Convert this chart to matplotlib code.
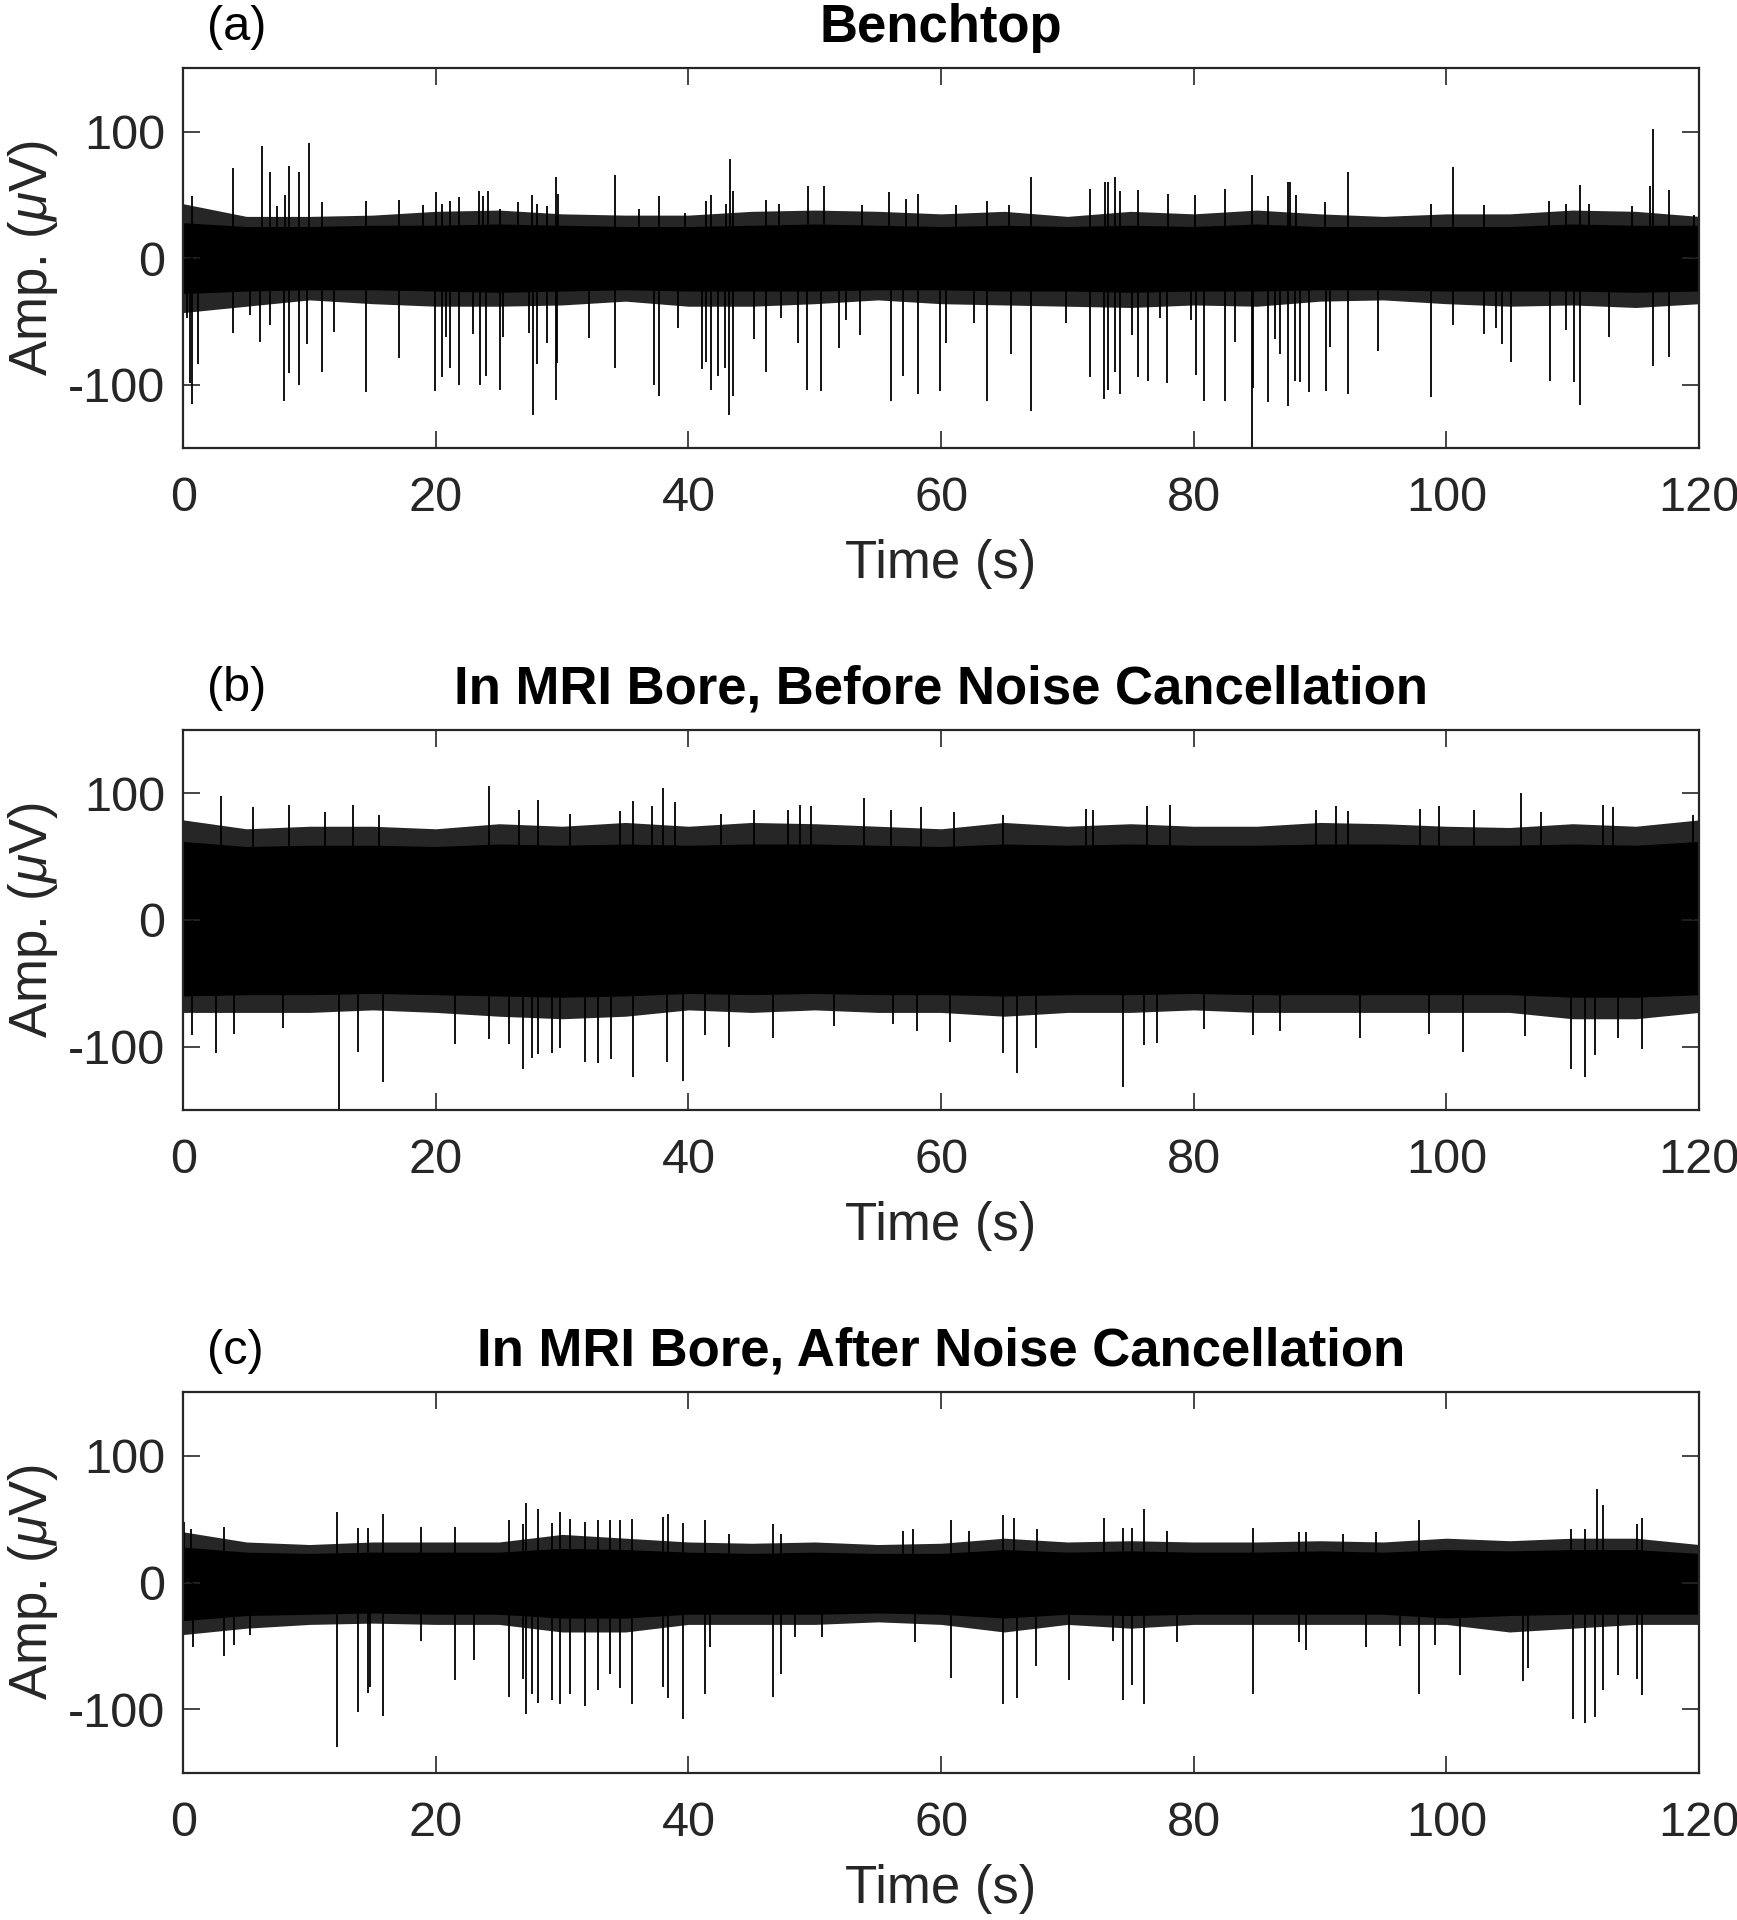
import matplotlib.pyplot as plt

plt.rcParams['font.family'] = ['Liberation Sans', 'DejaVu Sans']
plt.rcParams['mathtext.fontset'] = 'custom'
plt.rcParams['mathtext.it'] = 'Liberation Sans:italic'
plt.rcParams['mathtext.rm'] = 'Liberation Sans'
plt.rcParams['axes.unicode_minus'] = False

# envelope sample times (s)
env_t = list(range(0, 121, 5))

# (a) Benchtop
a_hair_hi = [43, 33, 33, 34, 37, 38, 35, 34, 34, 37, 38, 37, 35, 37, 33, 37, 35, 38, 35, 33, 35, 35, 38, 37, 33]
a_hair_lo = [-43, -38, -33, -36, -38, -38, -37, -34, -38, -38, -36, -33, -36, -37, -38, -39, -37,
             -38, -34, -33, -36, -38, -37, -39, -36]
a_core_hi = [28, 25, 25, 26, 26, 27, 26, 25, 25, 26, 27, 26, 25, 26, 25, 26, 25, 27, 25, 25, 25, 25, 27, 26, 26]
a_core_lo = [-28, -26, -25, -25, -26, -27, -26, -25, -26, -26, -26, -25, -25, -26, -26, -27, -26,
             -26, -25, -25, -26, -26, -26, -27, -26]
a_up_t = [0.66, 3.96, 6.2, 6.9, 7.4, 8.05, 8.4, 9.2, 9.97, 11.0, 14.5, 17.1, 19.0, 20.0, 20.5, 21.1,
          21.8, 23.4, 23.7, 24.1, 25.1, 26.5, 27.6, 28.0, 28.8, 29.5, 29.7, 34.2, 36.1, 37.65, 39.7,
          41.4, 41.8, 43.0, 43.3, 43.5, 46.1, 47.2, 49.5, 50.7, 53.7, 55.9, 57.2, 58.2, 61.2, 63.6,
          65.4, 67.1, 71.8, 73.0, 73.2, 73.8, 74.2, 75.6, 78.0, 80.1,
          82.5, 84.6, 85.9, 87.5, 87.6, 88.1, 90.4, 92.2, 98.8, 100.5, 103.0, 108.1, 109.5, 110.6,
          111.3, 114.7, 116.1, 116.4, 117.6, 119.6]
a_up_v = [49, 71, 89, 68, 41, 50, 73, 68, 91, 44, 45, 46, 42, 52, 43, 45, 48, 53, 49, 53, 39, 44, 50,
          43, 41, 64, 51, 66, 39, 49, 36,
          45, 50, 43, 78, 53, 46, 43, 57, 57, 42, 52, 47, 51, 42, 45, 42, 64, 55, 60, 60, 64, 53, 54,
          51, 50,
          55, 66, 49, 60, 60, 50, 44, 68, 43, 72, 42, 45, 43, 58, 43, 41, 57, 102, 54, 34]
a_dn_t = [0.26, 0.5, 0.7, 1.2, 3.96, 5.3, 6.1, 6.9, 8.0, 8.4, 9.2, 9.8, 11.0, 11.9, 14.5, 17.1, 19.9,
          20.5, 20.8, 21.1, 21.8, 22.9, 23.5, 24.0, 25.1, 25.3, 27.4, 27.7, 28.0, 28.8, 29.5, 29.6,
          32.1, 34.2, 37.3, 37.65, 39.2,
          41.1, 41.4, 41.8, 42.3, 42.9, 43.2, 43.5, 45.2, 46.1, 47.3, 48.7, 49.4, 50.5, 51.9, 52.5,
          53.6, 56.0, 57.0, 58.2, 59.9, 60.4, 62.6, 63.6, 65.5, 67.1, 69.9, 71.8, 72.9, 73.2, 73.8,
          74.2, 75.1, 75.6, 76.4, 77.3, 77.9, 79.8,
          80.2, 80.8, 82.5, 83.3, 84.6, 84.7, 85.9, 86.4, 86.8, 87.5, 88.0, 88.4, 89.1, 90.5, 90.8,
          92.2, 94.6, 98.8, 100.5, 103.0, 103.9, 104.4, 105.1, 108.2, 109.5, 110.1, 110.6, 112.9,
          116.4, 117.6]
a_dn_v = [-47, -99, -115, -84, -59, -45, -66, -53, -113, -91, -100, -68, -90, -58, -106, -79, -105,
          -94, -62, -87, -100, -60, -100, -93, -104, -62, -59, -124, -84, -67, -112, -83, -63, -87,
          -100, -109, -55,
          -88, -82, -104, -93, -87, -124, -109, -64, -90, -47, -67, -104, -105, -71, -49, -61, -113,
          -93, -107, -105, -67, -51, -113, -76, -121, -51, -94, -111, -104, -90, -107, -61, -94,
          -97, -47, -99, -49,
          -92, -113, -113, -66, -150, -103, -114, -64, -76, -117, -97, -98, -106, -105, -70, -107,
          -73, -110, -53, -60, -55, -68, -82, -97, -57, -98, -116, -62, -85, -78]

# (b) In MRI bore, before noise cancellation
b_hair_hi = [79, 72, 74, 74, 72, 76, 74, 77, 74, 77, 76, 74, 72, 77, 74, 76, 74, 74, 77, 76, 74, 73, 76, 74, 79]
b_hair_lo = [-73, -73, -73, -71, -73, -76, -78, -76, -71, -73, -71, -73, -73, -76, -73, -73, -71,
             -73, -73, -73, -73, -73, -78, -78, -73]
b_core_hi = [62, 58, 59, 59, 58, 60, 59, 60, 59, 60, 60, 59, 58, 60, 59, 60, 59, 59, 60, 60, 59, 59, 60, 59, 62]
b_core_lo = [-60, -59, -59, -58, -59, -60, -61, -60, -58, -59, -58, -59, -59, -60, -59, -59, -58,
             -59, -59, -59, -59, -59, -61, -61, -59]
b_up_t = [3.0, 5.5, 8.4, 11.2, 13.4, 15.5, 24.2, 26.6, 28.1, 30.6, 34.6, 35.6, 37.1, 38.0, 38.9,
          42.6, 45.2, 47.9, 48.8, 49.7, 53.9, 56.0, 58.4, 61.0, 64.9, 71.5, 72.0, 76.3, 78.1,
          89.7, 91.3, 92.2, 97.9, 99.4, 102.2, 105.9, 107.5, 112.4, 113.2, 119.5]
b_up_v = [98, 89, 91, 85, 91, 83, 106, 87, 95, 84, 86, 94, 90, 104, 93,
          84, 87, 87, 91, 90, 96, 87, 89, 85, 83, 88, 87, 90, 91,
          87, 90, 86, 88, 90, 87, 100, 85, 91, 89, 83]
b_dn_t = [0.66, 2.6, 4.0, 7.9, 12.3, 13.85, 15.8, 21.5, 24.2, 25.8, 26.9, 27.6, 28.1, 29.2, 29.8,
          31.8, 32.8, 33.9, 35.6, 38.3, 39.6,
          41.3, 43.2, 46.7, 51.5, 56.2, 58.1, 60.7, 64.9, 66.0, 67.5, 74.4, 76.1, 77.1,
          80.8, 84.7, 86.8, 93.2, 98.6, 101.3, 106.2, 109.9, 111.0, 111.8, 113.6, 115.5]
b_dn_v = [-91, -105, -90, -85, -150, -104, -128, -98, -94, -98, -118, -109, -106, -105, -101,
          -112, -113, -110, -124, -112, -127,
          -91, -100, -93, -84, -82, -88, -96, -105, -121, -101, -132, -99, -97,
          -86, -91, -88, -93, -90, -104, -92, -118, -124, -107, -93, -102]

# (c) In MRI bore, after noise cancellation
c_hair_hi = [40, 32, 30, 32, 32, 32, 38, 35, 32, 31, 32, 30, 31, 35, 32, 33, 32, 32, 33, 32, 35, 33, 35, 35, 30]
c_hair_lo = [-41, -36, -33, -32, -33, -33, -39, -39, -33, -33, -33, -31, -33, -39, -33, -36, -33,
             -33, -33, -33, -33, -39, -36, -33, -33]
c_core_hi = [28, 24, 23, 24, 24, 24, 27, 26, 24, 23, 24, 23, 23, 26, 24, 25, 24, 24, 25, 24, 26, 25, 26, 26, 23]
c_core_lo = [-30, -26, -25, -24, -25, -25, -28, -28, -25, -25, -25, -24, -25, -28, -25, -26, -25,
             -25, -25, -25, -28, -26, -25, -25, -25]
c_up_t = [0.05, 0.6, 3.2, 12.2, 13.85, 14.6, 15.8, 18.8, 21.5, 25.8, 26.9, 27.1, 28.1, 29.2, 29.8,
          30.6, 31.8, 32.8, 33.8, 34.6, 35.5, 38.0, 38.4, 39.6,
          41.3, 43.2, 46.7, 47.3, 57.0, 57.8, 60.8, 62.2, 64.9, 65.8, 67.6, 72.9, 74.4, 75.1, 76.1, 77.9,
          84.7, 88.3, 88.9, 91.8, 94.4, 97.8, 109.9, 111.0, 111.9, 112.4, 115.1, 115.5]
c_up_v = [48, 42, 44, 56, 43, 43, 54, 44, 44, 49, 46, 63, 58, 47, 56, 50, 48, 49, 49, 49, 50, 52, 54, 47,
          49, 38, 46, 38, 41, 42, 49, 41, 53, 51, 42, 51, 43, 43, 58, 41,
          43, 40, 40, 38, 40, 49, 42, 42, 74, 61, 46, 51]
c_dn_t = [0.74, 3.2, 4.0, 5.3, 12.2, 13.85, 14.6, 14.8, 15.8, 18.8, 21.5, 23.0, 25.8, 26.9, 27.1,
          27.6, 28.1, 29.2, 29.8, 30.6, 31.8, 32.8, 33.8, 34.6, 35.5, 38.0, 38.4, 39.6,
          41.3, 41.7, 46.7, 47.3, 48.4, 50.6, 57.9, 60.8, 64.9, 66.0, 67.5, 70.1, 73.6, 74.4, 75.1,
          76.1, 78.7,
          84.7, 88.3, 88.9, 93.6, 96.3, 97.8, 99.1, 101.1, 106.1, 106.5, 110.0, 111.0, 111.8, 112.4,
          113.6, 115.1, 115.5]
c_dn_v = [-51, -58, -49, -41, -130, -102, -87, -82, -105, -46, -77, -61, -90, -76, -104, -88, -95,
          -93, -96, -88, -97, -85, -72, -83, -96, -82, -91, -108,
          -88, -51, -90, -72, -43, -43, -47, -75, -96, -91, -66, -77, -46, -93, -81, -96, -47,
          -88, -47, -53, -51, -50, -88, -49, -73, -78, -67, -108, -111, -106, -85, -73, -76, -89]

titles = ['Benchtop', 'In MRI Bore, Before Noise Cancellation', 'In MRI Bore, After Noise Cancellation']
letters = ['(a)', '(b)', '(c)']
x_ticks = [0, 20, 40, 60, 80, 100, 120]
y_ticks = [-100, 0, 100]

panels = [
    (a_hair_hi, a_hair_lo, a_core_hi, a_core_lo, a_up_t, a_up_v, a_dn_t, a_dn_v),
    (b_hair_hi, b_hair_lo, b_core_hi, b_core_lo, b_up_t, b_up_v, b_dn_t, b_dn_v),
    (c_hair_hi, c_hair_lo, c_core_hi, c_core_lo, c_up_t, c_up_v, c_dn_t, c_dn_v),
]
boxes = [[0.1055, 0.7667, 0.8726, 0.1977],
         [0.1055, 0.4219, 0.8726, 0.1979],
         [0.1055, 0.0767, 0.8726, 0.1981]]

axc = '#262626'
fig = plt.figure(figsize=(17.37, 19.2), dpi=100)

for i, (hh, hl, ch, cl, ut, uv, dt, dv) in enumerate(panels):
    ax = fig.add_axes(boxes[i])
    # noisy trace: fuzzy outer band, solid core, then the single spikes
    ax.fill_between(env_t, hl, hh, color='0.15', lw=0)
    ax.fill_between(env_t, cl, ch, color='k', lw=0)
    ax.vlines(ut, 0, uv, color='k', lw=1.3)
    ax.vlines(dt, 0, dv, color='k', lw=1.3)

    ax.set_xlim(0, 120)
    ax.set_ylim(-150, 150)
    ax.set_xticks(x_ticks)
    ax.set_yticks(y_ticks)
    ax.tick_params(direction='in', length=12, width=1.2, top=True, right=True,
                   labelsize=35, color=axc, labelcolor=axc)
    ax.tick_params(axis='x', pad=20)
    ax.tick_params(axis='y', pad=13)
    for sp in ax.spines.values():
        sp.set_color(axc)
        sp.set_linewidth(1.6)
    ax.set_xlabel('Time (s)', fontsize=38, color=axc, labelpad=13)
    ax.set_ylabel('Amp. ($\\mu$V)', fontsize=38, color=axc, labelpad=6)
    ax.set_title(titles[i], fontsize=38, fontweight='bold', pad=19)
    ax.text(0.0156, 1.108, letters[i], transform=ax.transAxes, fontsize=35,
            ha='left', va='center')

fig.savefig('out.png', dpi=100)
